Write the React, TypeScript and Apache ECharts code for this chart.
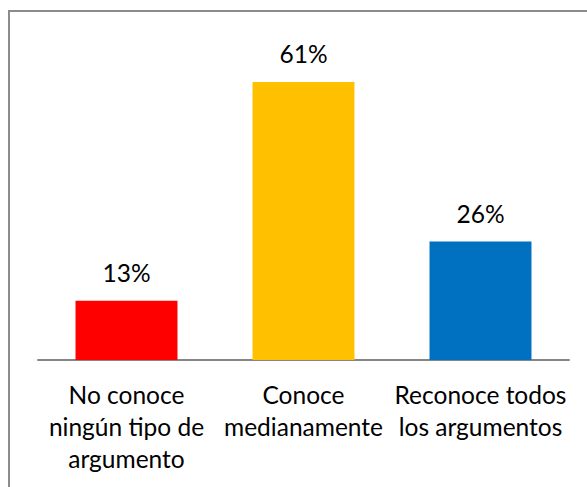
import React, { useEffect, useRef } from "react";
import * as echarts from "echarts";

const categories = [
  "No conoce\nningún tipo de\nargumento",
  "Conoce\nmedianamente",
  "Reconoce todos\nlos argumentos",
];
const values = [13, 61, 26];
const barColors = ["#FF0000", "#FFC000", "#0070C0"];

export default function App() {
  const ref = useRef<HTMLDivElement>(null);
  useEffect(() => {
    if (!ref.current) return;
    const chart = echarts.init(ref.current, undefined, { renderer: "svg" });
    const font = "Lato, 'Open Sans', sans-serif";
    chart.setOption({
      animation: false,
      backgroundColor: "#ffffff",
      grid: { left: 38, right: 18, top: 41, bottom: 127, containLabel: false },
      xAxis: {
        type: "category",
        data: categories,
        axisLine: { show: true, lineStyle: { color: "#868686", width: 2 } },
        axisTick: { show: false },
        axisLabel: {
          color: "#000000",
          fontFamily: font,
          fontSize: 24.5,
          lineHeight: 32,
          margin: 18,
          interval: 0,
        },
      },
      yAxis: {
        type: "value",
        min: 0,
        max: 70,
        interval: 10,
        show: false,
        splitLine: { show: false },
      },
      series: [
        {
          type: "bar",
          barWidth: "57.6%",
          data: values.map((v, i) => ({ value: v, itemStyle: { color: barColors[i] } })),
          label: {
            show: true,
            position: "top",
            distance: 16,
            formatter: "{c}%",
            color: "#000000",
            fontFamily: font,
            fontSize: 24.5,
          },
        },
      ],
      graphic: [
        {
          type: "rect",
          shape: { x: 9, y: 11, width: 700, height: 700 },
          style: { fill: "none", stroke: "#8c8c8c", lineWidth: 2 },
          silent: true,
        },
      ],
    });
    return () => chart.dispose();
  }, []);
  return (
    <div
      ref={ref}
      style={{ position: "absolute", left: 0, top: 0, width: 587, height: 487 }}
    />
  );
}
